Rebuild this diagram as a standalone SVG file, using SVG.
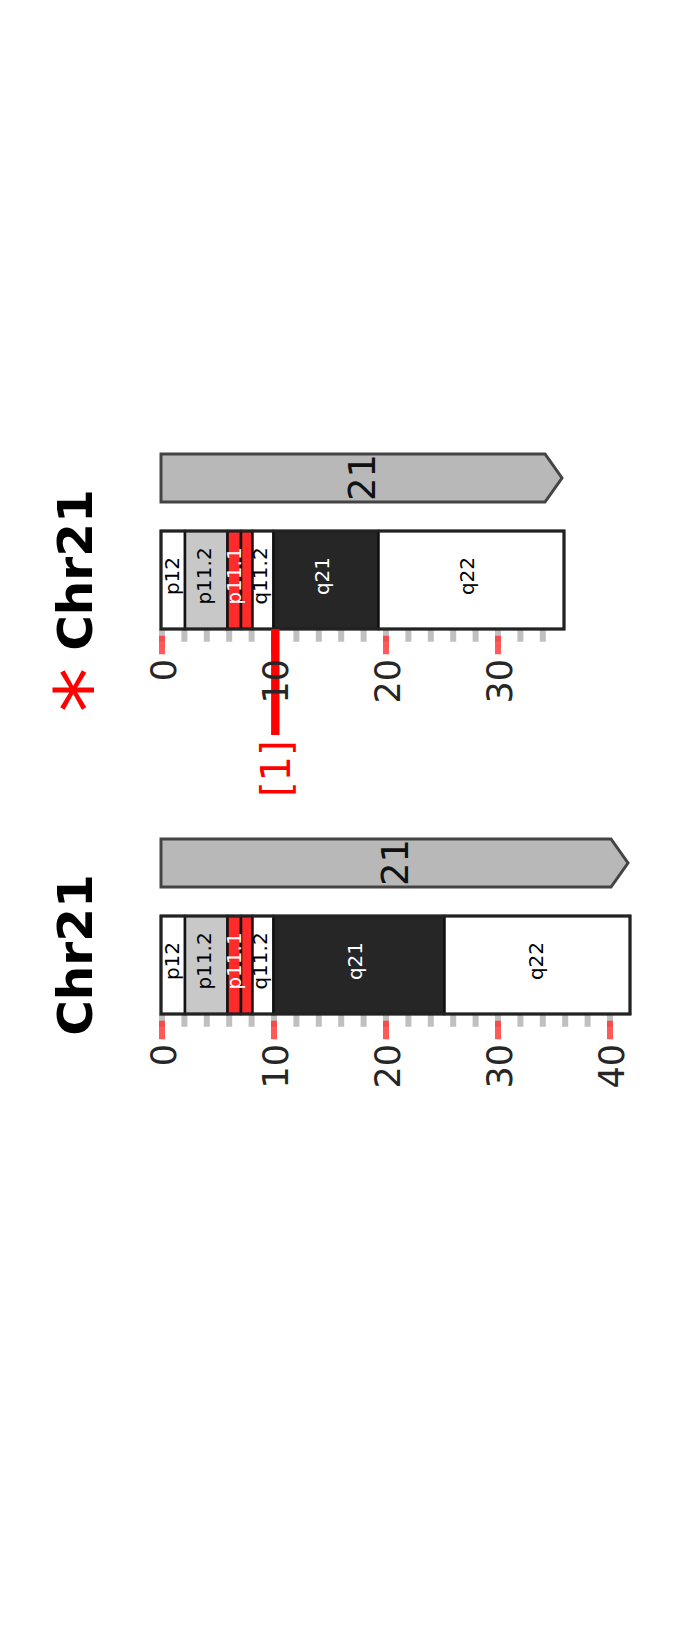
<svg xmlns="http://www.w3.org/2000/svg" width="699" height="1640" viewBox="0 0 699 1640">
<style>
.bg{fill:#ffffff}
.bar{fill:#b8b8b8;stroke:#444444;stroke-width:3;stroke-linejoin:miter}
.band{stroke:#111111;stroke-width:2.5}
.outline{fill:none;stroke:#222222;stroke-width:3}
.white{fill:#ffffff}
.gpale{fill:#c8c8c8}
.red{fill:#ff2a2a}
.dark{fill:#262626}
.mtick{stroke:#c0c0c0;stroke-width:6;fill:none}
.Mtick{stroke:#ff3030;stroke-opacity:0.8;stroke-width:6;fill:none}
.bl{font-family:"DejaVu Sans",sans-serif;font-size:20px;text-anchor:middle}
.tl{font-family:"DejaVu Sans",sans-serif;font-size:35px;fill:#262626;text-anchor:end}
.num{font-family:"DejaVu Sans",sans-serif;font-size:37px;fill:#111111;text-anchor:middle}
.title{font-family:"DejaVu Sans",sans-serif;font-size:48.5px;font-weight:bold;fill:#000000;text-anchor:middle}
</style>
<rect class="bg" x="0" y="0" width="699" height="1640"/>

<g id="chrA">
  <g id="chrA-title">
    <text class="title" transform="translate(92,570) rotate(-90)">Chr21</text>
    <text transform="translate(72.5,690) rotate(-90)" x="0" y="47.7" style="font-family:'DejaVu Sans',sans-serif;font-size:90px;fill:#ff0000;text-anchor:middle">*</text>
  </g>
  <g id="chrA-bar">
    <path class="bar" d="M161,454 H545 L562,478 L545,502 H161 Z"/>
    <text class="num" transform="translate(375,477.5) rotate(-90)">21</text>
  </g>
  <g id="chrA-ticks">
    <path class="mtick" d="M162,629V641.7M184.4,629V641.7M206.8,629V641.7M229.2,629V641.7M251.6,629V641.7M274,629V641.7M296.4,629V641.7M318.8,629V641.7M341.2,629V641.7M363.6,629V641.7M386,629V641.7M408.4,629V641.7M430.8,629V641.7M453.2,629V641.7M475.6,629V641.7M498,629V641.7M520.4,629V641.7M542.8,629V641.7"/>
    <path class="Mtick" d="M162,635.7V654.3M274,635.7V654.3M386,635.7V654.3M498,635.7V654.3"/>
  </g>
  <g id="chrA-bands">
    <rect class="band white" x="161" y="531" width="24" height="98"/>
    <rect class="band gpale" x="185" y="531" width="42.5" height="98"/>
    <rect class="band red" x="227.5" y="531" width="13.5" height="98"/>
    <rect class="band red" x="241" y="531" width="11.5" height="98"/>
    <rect class="band white" x="252.5" y="531" width="21" height="98"/>
    <rect class="band dark" x="273.5" y="531" width="105" height="98"/>
    <rect class="band white" x="378.5" y="531" width="185.5" height="98"/>
    <rect class="outline" x="161" y="531" width="403" height="98"/>
    <text class="bl" fill="#000" transform="translate(179,576) rotate(-90)">p12</text>
    <text class="bl" fill="#000" transform="translate(211,576) rotate(-90)">p11.2</text>
    <text class="bl" fill="#fff" transform="translate(241,576) rotate(-90)">p11.1</text>
    <text class="bl" fill="#000" transform="translate(266.5,576) rotate(-90)">q11.2</text>
    <text class="bl" fill="#fff" transform="translate(329,576) rotate(-90)">q21</text>
    <text class="bl" fill="#000" transform="translate(474,576) rotate(-90)">q22</text>
  </g>
  <g id="chrA-marker">
    <rect x="271.1" y="629" width="8.4" height="106" fill="#ff0000"/>
    <text transform="translate(289.5,768.7) rotate(-90)" style="font-family:'DejaVu Sans',sans-serif;font-size:40px;fill:#ff0000;text-anchor:middle">[1]</text>
  </g>
  <g id="chrA-ticklabels">
    <text class="tl" transform="translate(176,659) rotate(-90)">0</text>
    <text class="tl" transform="translate(288,659) rotate(-90)">10</text>
    <text class="tl" transform="translate(400,659) rotate(-90)">20</text>
    <text class="tl" transform="translate(512,659) rotate(-90)">30</text>
  </g>
</g>

<g id="chrB">
  <g id="chrB-title">
    <text class="title" transform="translate(92,955) rotate(-90)">Chr21</text>
  </g>
  <g id="chrB-bar">
    <path class="bar" d="M161,839 H611 L628,863 L611,887 H161 Z"/>
    <text class="num" transform="translate(408.3,862.5) rotate(-90)">21</text>
  </g>
  <g id="chrB-ticks">
    <path class="mtick" d="M162,1014V1026.7M184.4,1014V1026.7M206.8,1014V1026.7M229.2,1014V1026.7M251.6,1014V1026.7M274,1014V1026.7M296.4,1014V1026.7M318.8,1014V1026.7M341.2,1014V1026.7M363.6,1014V1026.7M386,1014V1026.7M408.4,1014V1026.7M430.8,1014V1026.7M453.2,1014V1026.7M475.6,1014V1026.7M498,1014V1026.7M520.4,1014V1026.7M542.8,1014V1026.7M565.2,1014V1026.7M587.6,1014V1026.7M610,1014V1026.7"/>
    <path class="Mtick" d="M162,1020.7V1039.3M274,1020.7V1039.3M386,1020.7V1039.3M498,1020.7V1039.3M610,1020.7V1039.3"/>
  </g>
  <g id="chrB-bands">
    <rect class="band white" x="161" y="916" width="24" height="98"/>
    <rect class="band gpale" x="185" y="916" width="42.5" height="98"/>
    <rect class="band red" x="227.5" y="916" width="13.5" height="98"/>
    <rect class="band red" x="241" y="916" width="11.5" height="98"/>
    <rect class="band white" x="252.5" y="916" width="21" height="98"/>
    <rect class="band dark" x="273.5" y="916" width="171" height="98"/>
    <rect class="band white" x="444.5" y="916" width="185.5" height="98"/>
    <rect class="outline" x="161" y="916" width="469" height="98"/>
    <text class="bl" fill="#000" transform="translate(179,961) rotate(-90)">p12</text>
    <text class="bl" fill="#000" transform="translate(211,961) rotate(-90)">p11.2</text>
    <text class="bl" fill="#fff" transform="translate(241,961) rotate(-90)">p11.1</text>
    <text class="bl" fill="#000" transform="translate(266.5,961) rotate(-90)">q11.2</text>
    <text class="bl" fill="#fff" transform="translate(361.5,961) rotate(-90)">q21</text>
    <text class="bl" fill="#000" transform="translate(542.5,961) rotate(-90)">q22</text>
  </g>
  <g id="chrB-ticklabels">
    <text class="tl" transform="translate(176,1044) rotate(-90)">0</text>
    <text class="tl" transform="translate(288,1044) rotate(-90)">10</text>
    <text class="tl" transform="translate(400,1044) rotate(-90)">20</text>
    <text class="tl" transform="translate(512,1044) rotate(-90)">30</text>
    <text class="tl" transform="translate(624,1044) rotate(-90)">40</text>
  </g>
</g>

<g id="connectors"/>
</svg>
